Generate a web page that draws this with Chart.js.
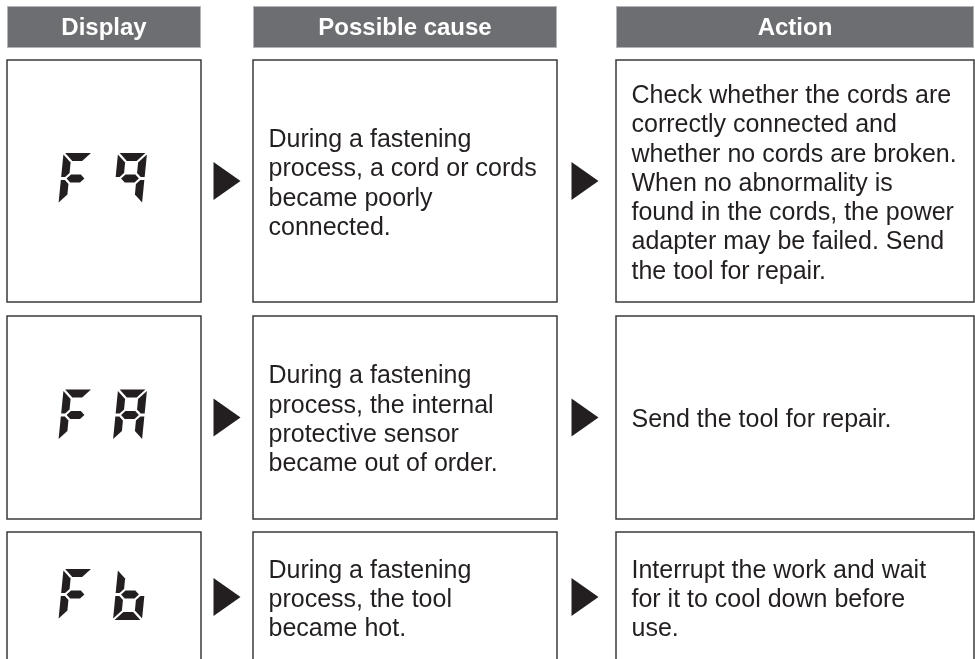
<!DOCTYPE html>
<html>
<head>
<meta charset="utf-8">
<script src="https://cdn.jsdelivr.net/npm/chart.js@4.4.1/dist/chart.umd.min.js"></script>
<style>
  html, body { margin: 0; padding: 0; background: #fff; }
  #wrap { width: 975px; height: 659px; }
</style>
</head>
<body>
<div id="wrap"><canvas id="table"></canvas></div>
<script>
var headers = ['Display', 'Possible cause', 'Action'];
var codes = ['F9', 'FA', 'Fb'];
var causes = [
  ['During a fastening', 'process, a cord or cords', 'became poorly', 'connected.'],
  ['During a fastening', 'process, the internal', 'protective sensor', 'became out of order.'],
  ['During a fastening', 'process, the tool', 'became hot.']
];
var actions = [
  ['Check whether the cords are', 'correctly connected and', 'whether no cords are broken.',
   'When no abnormality is', 'found in the cords, the power', 'adapter may be failed. Send',
   'the tool for repair.'],
  ['Send the tool for repair.'],
  ['Interrupt the work and wait', 'for it to cool down before', 'use.']
];

// grid, in axis units (both axes run like the page: 0..975 and 0..659)
var colSpans = [[7, 201], [253, 557], [616, 974]];
var rowSpans = [[60, 302], [316, 519], [532, 664]];
var rowMid = [181, 417.5, 597];
var headSpan = [6, 48];
var arrowX = [227, 585];
var digitX = [75.5, 130];

var ink = '#231f20';
var font = '"Liberation Sans", Arial, sans-serif';

// lit segments for the lcd glyphs
var segmentsOf = {
  F: 'afge',
  '9': 'abcfg',
  A: 'abcefg',
  b: 'cdefg'
};

var drawDigit = (ctx, ch, cx, cy) => {
  var W = 29, H = 51, t = 8, g = 1.6, slant = 0.1;
  var x0 = cx - W / 2, y0 = cy - H / 2;
  var P = ([x, y]) => [x0 + x + (H / 2 - y) * slant, y0 + y];
  var m = H / 2;
  var shapes = {
    a: [[g, 0], [W - g, 0], [W - t - g, t], [t + g, t]],
    d: [[t + g, H - t], [W - t - g, H - t], [W - g, H], [g, H]],
    g: [[t / 2 + g, m], [t + g, m - t / 2], [W - t - g, m - t / 2], [W - t / 2 - g, m],
        [W - t - g, m + t / 2], [t + g, m + t / 2]],
    f: [[0, g], [t, t + g], [t, m - t / 2 - g], [t / 2, m - g], [0, m - g]],
    e: [[0, m + g], [t / 2, m + g], [t, m + t / 2 + g], [t, H - t - g], [0, H - g]],
    b: [[W, g], [W, m - g], [W - t / 2, m - g], [W - t, m - t / 2 - g], [W - t, t + g]],
    c: [[W, m + g], [W, H - g], [W - t, H - t - g], [W - t, m + t / 2 + g], [W - t / 2, m + g]]
  };
  ctx.fillStyle = ink;
  for (const s of segmentsOf[ch]) {
    var pts = shapes[s].map(P);
    ctx.beginPath();
    ctx.moveTo(pts[0][0], pts[0][1]);
    for (const p of pts.slice(1)) ctx.lineTo(p[0], p[1]);
    ctx.closePath();
    ctx.fill();
  }
};

var tablePlugin = {
  id: 'tableGrid',
  afterDraw: (chart) => {
    var ctx = chart.ctx;
    var sx = chart.scales.x, sy = chart.scales.y;
    var X = v => sx.getPixelForValue(v);
    var Y = v => sy.getPixelForValue(v);
    ctx.save();

    // header bars
    headers.forEach((label, i) => {
      var x0 = X(colSpans[i][0]), x1 = X(colSpans[i][1]);
      var y0 = Y(headSpan[0]), y1 = Y(headSpan[1]);
      ctx.fillStyle = '#6d6e71';
      ctx.fillRect(x0, y0, x1 - x0, y1 - y0);
      ctx.strokeStyle = '#b4b5b8';
      ctx.lineWidth = 1;
      ctx.strokeRect(x0 + 0.5, y0 + 0.5, x1 - x0 - 1, y1 - y0 - 1);
      ctx.fillStyle = '#ffffff';
      ctx.font = 'bold 24px ' + font;
      ctx.textAlign = 'center';
      ctx.textBaseline = 'middle';
      ctx.fillText(label, (x0 + x1) / 2, (y0 + y1) / 2 + 1);
    });

    // cell boxes
    ctx.strokeStyle = '#3a3a3b';
    ctx.lineWidth = 1.5;
    rowSpans.forEach(r => {
      colSpans.forEach(c => {
        ctx.strokeRect(X(c[0]), Y(r[0]), X(c[1]) - X(c[0]), Y(r[1]) - Y(r[0]));
      });
    });

    rowMid.forEach((mid, i) => {
      var cy = Y(mid);

      // lcd code
      codes[i].split('').forEach((ch, k) => drawDigit(ctx, ch, X(digitX[k]), cy - 2.5));

      // arrows
      ctx.fillStyle = ink;
      arrowX.forEach(ax => {
        var x = X(ax);
        ctx.beginPath();
        ctx.moveTo(x - 13.5, cy - 19);
        ctx.lineTo(x + 13.5, cy);
        ctx.lineTo(x - 13.5, cy + 19);
        ctx.closePath();
        ctx.fill();
      });

      // texts
      ctx.font = '25px ' + font;
      ctx.textAlign = 'left';
      ctx.textBaseline = 'middle';
      [[causes[i], 1], [actions[i], 2]].forEach(([lines, col]) => {
        var lh = 29.3;
        var top = cy + 3 - (lines.length - 1) * lh / 2;
        lines.forEach((ln, j) => ctx.fillText(ln, X(colSpans[col][0]) + 15.5, top + j * lh));
      });
    });

    ctx.restore();
  }
};

new Chart(document.getElementById('table'), {
  type: 'scatter',
  data: { datasets: [{ data: [] }] },
  options: {
    responsive: true,
    maintainAspectRatio: false,
    animation: false,
    layout: { padding: 0 },
    plugins: { legend: { display: false }, tooltip: { enabled: false } },
    scales: {
      x: { type: 'linear', min: 0, max: 975, display: false },
      y: { type: 'linear', min: 0, max: 659, reverse: true, display: false }
    }
  },
  plugins: [tablePlugin]
});
</script>
</body>
</html>
